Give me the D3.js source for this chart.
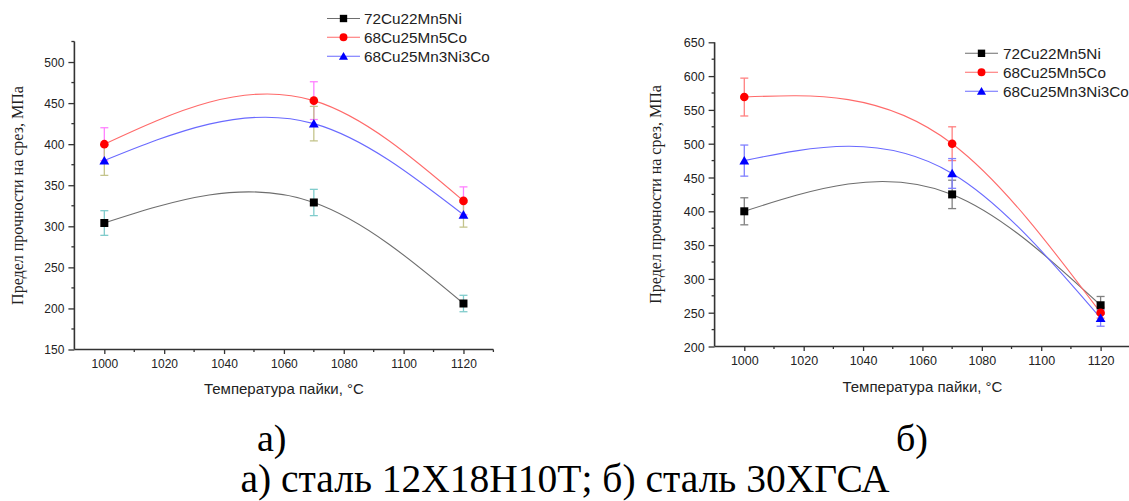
<!DOCTYPE html>
<html>
<head>
<meta charset="utf-8">
<script src="https://cdn.jsdelivr.net/npm/d3@7/dist/d3.min.js"></script>
<style>
  html, body { margin: 0; padding: 0; background: #fff; }
  svg { display: block; }
</style>
</head>
<body>
<svg id="chart" width="1129" height="501"></svg>
<script>
// Brazing temperature, °C
const temps = [1000, 1070, 1120];
const seriesNames = ["72Cu22Mn5Ni", "68Cu25Mn5Co", "68Cu25Mn3Ni3Co"];
const xTicks = [1000, 1020, 1040, 1060, 1080, 1100, 1120];

// а) steel 12Х18Н10Т — shear strength, MPa, and error
const a_72Cu = [304, 329, 206];
const a_72Cu_err = [15, 16, 10];
const a_68Co = [400, 453, 331];
const a_68Co_err = [20, 23, 17];
const a_68NiCo = [380, 425, 314];
const a_68NiCo_err = [18, 21, 15];
const a_yTicks = [150, 200, 250, 300, 350, 400, 450, 500];

// б) steel 30ХГСА — shear strength, MPa, and error
const b_72Cu = [400, 425, 261];
const b_72Cu_err = [20, 21, 13];
const b_68Co = [569, 500, 250];
const b_68Co_err = [28, 25, 8];
const b_68NiCo = [475, 456, 242];
const b_68NiCo_err = [23, 22, 12];
const b_yTicks = [200, 250, 300, 350, 400, 450, 500, 550, 600, 650];

const captionA = "а)";
const captionB = "б)";
const captionAll = "а) сталь 12Х18Н10Т; б) сталь 30ХГСА";
const xTitle = "Температура пайки, °C";
const yTitle = "Предел прочности на срез, МПа";

// Natural cubic spline in x (y as a function of x), emitted as exact Bézier segments
function curveNaturalX(context) {
  return {
    areaStart() {}, areaEnd() {},
    lineStart() { this._x = []; this._y = []; },
    point(x, y) { this._x.push(+x); this._y.push(+y); },
    lineEnd() {
      const x = this._x, y = this._y, n = x.length;
      if (!n) return;
      context.moveTo(x[0], y[0]);
      if (n === 2) { context.lineTo(x[1], y[1]); return; }
      const h = [], M = new Array(n).fill(0);
      for (let i = 0; i < n - 1; i++) h.push(x[i + 1] - x[i]);
      // tridiagonal system for interior second derivatives
      const m = n - 2, a = [], b = [], c = [], d = [];
      for (let k = 0; k < m; k++) {
        const i = k + 1;
        a.push(h[i - 1]); b.push(2 * (h[i - 1] + h[i])); c.push(h[i]);
        d.push(6 * ((y[i + 1] - y[i]) / h[i] - (y[i] - y[i - 1]) / h[i - 1]));
      }
      for (let k = 1; k < m; k++) {
        const w = a[k] / b[k - 1];
        b[k] -= w * c[k - 1]; d[k] -= w * d[k - 1];
      }
      for (let k = m - 1; k >= 0; k--) {
        M[k + 1] = (d[k] - (k < m - 1 ? c[k] * M[k + 2] : 0)) / b[k];
      }
      for (let i = 0; i < n - 1; i++) {
        const s0 = (y[i + 1] - y[i]) / h[i] - h[i] * (2 * M[i] + M[i + 1]) / 6;
        const s1 = (y[i + 1] - y[i]) / h[i] + h[i] * (M[i] + 2 * M[i + 1]) / 6;
        context.bezierCurveTo(
          x[i] + h[i] / 3, y[i] + s0 * h[i] / 3,
          x[i + 1] - h[i] / 3, y[i + 1] - s1 * h[i] / 3,
          x[i + 1], y[i + 1]);
      }
    }
  };
}

const svg = d3.select("#chart");
const axisColor = "#333";
const sans = "'Liberation Sans', Arial, sans-serif";
const serif = "'Liberation Serif', 'Times New Roman', serif";

const markerShapes = [d3.symbolSquare, d3.symbolCircle, d3.symbolTriangle];
const markerSizes = [64, 58, 42];
const markerColors = ["#000000", "#ff0000", "#0000ff"];
const lineColors = ["#6e6e6e", "#ff6a6a", "#6a6aff"];

const panels = [
  {
    series: [a_72Cu, a_68Co, a_68NiCo],
    errors: [a_72Cu_err, a_68Co_err, a_68NiCo_err],
    errColors: ["#80cccc", "#ff80ff", "#c4c48c"],
    yDomain: [150, 525], yTicks: a_yTicks,
    xRange: [74.4, 493.4], yRange: [349.5, 41.5],
    tickFont: 12, xTitleY: 393.5, yTitleX: 17,
    legend: { x0: 327, x1: 360, tx: 364, y: [18.5, 37.3, 56.2] }
  },
  {
    series: [b_72Cu, b_68Co, b_68NiCo],
    errors: [b_72Cu_err, b_68Co_err, b_68NiCo_err],
    errColors: ["#808080", "#ff8080", "#8080ff"],
    yDomain: [200, 650], yTicks: b_yTicks,
    xRange: [714.6, 1130.3], yRange: [346.5, 42.3],
    tickFont: 12.5, xTitleY: 392, yTitleX: 655,
    legend: { x0: 965, x1: 998, tx: 1003, y: [53.3, 72.3, 91.2] }
  }
];

panels.forEach(p => {
  const x = d3.scaleLinear().domain([990, 1130]).range(p.xRange);
  const y = d3.scaleLinear().domain(p.yDomain).range(p.yRange);
  const g = svg.append("g");

  // y axis
  const yAxis = d3.axisLeft(y).tickValues(p.yTicks).tickFormat(d3.format("d"))
    .tickSize(6).tickPadding(4);
  const gy = g.append("g").attr("transform", `translate(${p.xRange[0]},0)`).call(yAxis);
  const yMinor = d3.range(p.yDomain[0] + 25, p.yDomain[1] + 1, 50);
  gy.selectAll(".minor").data(yMinor).join("line").attr("class", "minor")
    .attr("x1", 0).attr("x2", -3).attr("y1", d => y(d)).attr("y2", d => y(d));

  // x axis
  const xAxis = d3.axisBottom(x).tickValues(xTicks).tickFormat(d3.format("d"))
    .tickSize(4.5).tickPadding(5);
  const gx = g.append("g").attr("transform", `translate(0,${p.yRange[0]})`).call(xAxis);
  const xMinor = d3.range(1010, 1131, 20);
  gx.selectAll(".minor").data(xMinor).join("line").attr("class", "minor")
    .attr("y1", 0).attr("y2", 2.5).attr("x1", d => x(d)).attr("x2", d => x(d));

  [gx, gy].forEach(ax => {
    ax.select(".domain").attr("stroke", axisColor).attr("stroke-width", 1.6)
      .attr("d", ax === gx ? `M${p.xRange[0]},0H${p.xRange[1]}` : `M0,${p.yRange[0]}V${p.yRange[1]}`);
    ax.selectAll("line").attr("stroke", axisColor).attr("stroke-width", 1.3);
    ax.selectAll("text").attr("fill", "#222").style("font-family", sans)
      .style("font-size", p.tickFont + "px");
  });
  gy.selectAll(".tick text").attr("dy", "0.36em");

  // axis titles
  g.append("text").attr("x", (p.xRange[0] + p.xRange[1]) / 2).attr("y", p.xTitleY)
    .attr("text-anchor", "middle").attr("fill", "#222")
    .style("font-family", sans).style("font-size", "15px").text(xTitle);
  g.append("text")
    .attr("transform", `translate(${p.yTitleX},${(p.yRange[0] + p.yRange[1]) / 2}) rotate(-90)`)
    .attr("text-anchor", "middle").attr("dy", "0.35em").attr("fill", "#222")
    .style("font-family", serif).style("font-size", "16px").text(yTitle);

  // curves
  const line = d3.line().x((d, i) => x(temps[i])).y(d => y(d)).curve(curveNaturalX);
  p.series.forEach((s, k) => {
    g.append("path").attr("d", line(s)).attr("fill", "none")
      .attr("stroke", lineColors[k]).attr("stroke-width", 1.1);
  });

  // error bars and markers
  p.series.forEach((s, k) => {
    const eg = g.append("g").attr("stroke", p.errColors[k]).attr("stroke-width", 1.3);
    s.forEach((v, i) => {
      const cx = x(temps[i]), lo = y(v - p.errors[k][i]), hi = y(v + p.errors[k][i]);
      eg.append("line").attr("x1", cx).attr("x2", cx).attr("y1", lo).attr("y2", hi);
      eg.append("line").attr("x1", cx - 4).attr("x2", cx + 4).attr("y1", lo).attr("y2", lo);
      eg.append("line").attr("x1", cx - 4).attr("x2", cx + 4).attr("y1", hi).attr("y2", hi);
    });
  });
  p.series.forEach((s, k) => {
    g.append("g").selectAll("path").data(s).join("path")
      .attr("transform", (d, i) => `translate(${x(temps[i])},${y(d) + (k === 2 ? 1 : 0)})`)
      .attr("d", d3.symbol().type(markerShapes[k]).size(markerSizes[k]))
      .attr("fill", markerColors[k]);
  });

  // legend
  const L = p.legend;
  seriesNames.forEach((name, k) => {
    const ly = L.y[k];
    g.append("line").attr("x1", L.x0).attr("x2", L.x1).attr("y1", ly).attr("y2", ly)
      .attr("stroke", lineColors[k]).attr("stroke-width", 1.1);
    g.append("path").attr("transform", `translate(${(L.x0 + L.x1) / 2},${ly + (k === 2 ? 1 : 0)})`)
      .attr("d", d3.symbol().type(markerShapes[k]).size(markerSizes[k] * 0.85))
      .attr("fill", markerColors[k]);
    g.append("text").attr("x", L.tx).attr("y", ly).attr("dy", "0.35em")
      .attr("fill", "#222").style("font-family", sans).style("font-size", "15.3px").text(name);
  });
});

// captions
svg.append("text").attr("x", 257).attr("y", 451).attr("fill", "#000")
  .style("font-family", serif).style("font-size", "38px").text(captionA);
svg.append("text").attr("x", 896).attr("y", 451).attr("fill", "#000")
  .style("font-family", serif).style("font-size", "38px").text(captionB);
svg.append("text").attr("x", 565).attr("y", 492).attr("text-anchor", "middle").attr("fill", "#000")
  .style("font-family", serif).style("font-size", "39.5px").text(captionAll);
</script>
</body>
</html>
